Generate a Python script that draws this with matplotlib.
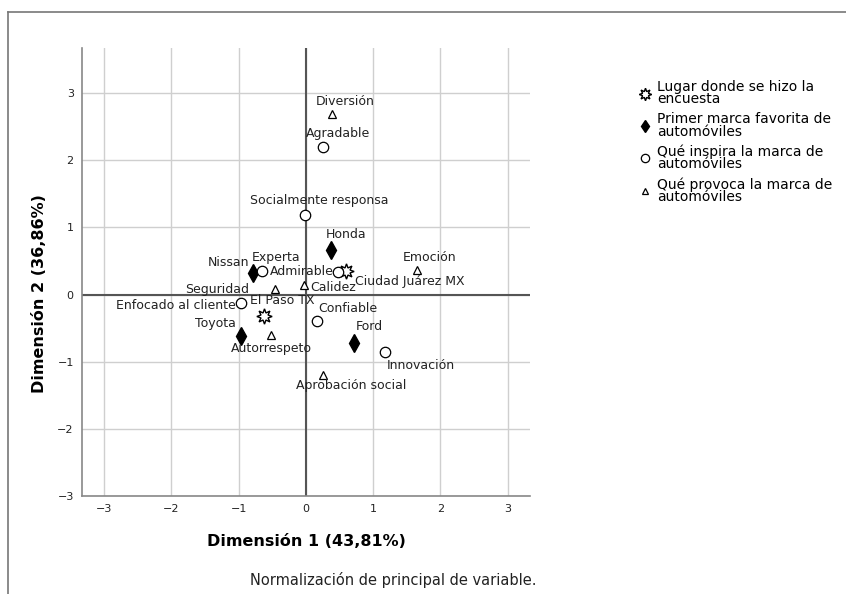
import numpy as np
import matplotlib
matplotlib.use("Agg")
import matplotlib.pyplot as plt
from matplotlib.lines import Line2D

# --- data ---
lugar_names = ["Ciudad Juárez MX", "El Paso TX"]
lugar_x = [0.60, -0.63]
lugar_y = [0.35, -0.32]

marca_names = ["Honda", "Nissan", "Toyota", "Ford"]
marca_x = [0.37, -0.79, -0.97, 0.71]
marca_y = [0.66, 0.32, -0.61, -0.72]

inspira_names = ["Agradable", "Socialmente responsa", "Experta", "Admirable",
                 "Enfocado al cliente", "Confiable", "Innovación"]
inspira_x = [0.26, -0.01, -0.66, 0.47, -0.96, 0.17, 1.17]
inspira_y = [2.19, 1.19, 0.35, 0.34, -0.13, -0.40, -0.86]

provoca_names = ["Diversión", "Emoción", "Seguridad", "Calidez",
                 "Autorrespeto", "Aprobación social"]
provoca_x = [0.39, 1.65, -0.46, -0.03, -0.52, 0.25]
provoca_y = [2.69, 0.36, 0.08, 0.14, -0.60, -1.20]

legend_labels = ["Lugar donde se hizo la\nencuesta",
                 "Primer marca favorita de\nautomóviles",
                 "Qué inspira la marca de\nautomóviles",
                 "Qué provoca la marca de\nautomóviles"]

x_label = "Dimensión 1 (43,81%)"
y_label = "Dimensión 2 (36,86%)"
footnote = "Normalización de principal de variable."
ticks = [-3, -2, -1, 0, 1, 2, 3]

# label placement: offset in points from the marker, horizontal alignment
label_pos = {
    "Ciudad Juárez MX": (6, -7.5, "left"),
    "El Paso TX": (13.5, 11.2, "center"),
    "Honda": (11.3, 11.3, "center"),
    "Nissan": (-2.4, 7.9, "right"),
    "Toyota": (-3.2, 8.4, "right"),
    "Ford": (11.2, 11.5, "center"),
    "Agradable": (10.7, 10.3, "center"),
    "Socialmente responsa": (10.4, 9.9, "center"),
    "Experta": (10.6, 9.6, "center"),
    "Admirable": (-3, 0, "right"),
    "Enfocado al cliente": (-4.3, -1.9, "right"),
    "Confiable": (0.5, 9.6, "left"),
    "Innovación": (1.9, -9.4, "left"),
    "Diversión": (9.4, 9.1, "center"),
    "Emoción": (9.1, 9.6, "center"),
    "Seguridad": (-18.3, 0, "right"),
    "Calidez": (4.5, -1.7, "left"),
    "Autorrespeto": (0, -10, "center"),
    "Aprobación social": (20.2, -7.7, "center"),
}

fig = plt.figure(figsize=(8.46, 5.94), dpi=100)
ax = fig.add_axes([0.097, 0.165, 0.530, 0.754])

ax.set_xlim(-3.33, 3.34)
ax.set_ylim(-3.0, 3.67)
ax.set_xticks(ticks)
ax.set_yticks(ticks)
ax.grid(True, color="#cfcfcf", lw=1)
ax.set_axisbelow(True)
ax.axhline(0, color="#555555", lw=1.5, zorder=1)
ax.axvline(0, color="#555555", lw=1.5, zorder=1)
for s in ["top", "right"]:
    ax.spines[s].set_visible(False)
for s in ["left", "bottom"]:
    ax.spines[s].set_color("#888888")
    ax.spines[s].set_linewidth(1.2)
ax.tick_params(length=0, labelsize=8, colors="#222222", pad=6)

star = dict(marker=(8, 1, 0), markersize=11, mfc="white", mec="black", mew=1, ls="none")
diamond = dict(marker="d", markersize=9, mfc="black", mec="black", ls="none")
circle = dict(marker="o", markersize=7.5, mfc="white", mec="black", mew=0.9, ls="none")
tri = dict(marker="^", markersize=6, mfc="white", mec="black", mew=0.9, ls="none")

groups = [
    (lugar_names, lugar_x, lugar_y, star),
    (marca_names, marca_x, marca_y, diamond),
    (inspira_names, inspira_x, inspira_y, circle),
    (provoca_names, provoca_x, provoca_y, tri),
]
handles = []
for names, xs, ys, style in groups:
    ax.plot(xs, ys, zorder=3, **style)
    handles.append(Line2D([], [], **style))
    for n, x, y in zip(names, xs, ys):
        dx, dy, ha = label_pos[n]
        ax.annotate(n, (x, y), xytext=(dx, dy), textcoords="offset points",
                    ha=ha, va="center", fontsize=9, color="#222222", zorder=4)

ax.set_xlabel(x_label, fontsize=11.5, fontweight="bold", labelpad=14)
ax.set_ylabel(y_label, fontsize=11.5, fontweight="bold")
ax.yaxis.set_label_coords(-0.078, 0.452)

# smaller markers inside the legend
for h, ms in zip(handles, [9, 6, 6, 5]):
    h.set_markersize(ms)
leg = fig.legend(handles, legend_labels, loc="upper left", bbox_to_anchor=(0.748, 0.877),
                 frameon=False, fontsize=10, handlelength=0.8, handletextpad=0.45,
                 labelspacing=0.42, borderpad=0)
for t in leg.get_texts():
    t.set_linespacing(0.85)

fig.text(0.296, 0.0236, footnote, fontsize=10.5, color="#222222", va="center")

# outer border like the source export
fig.add_artist(Line2D([0.009, 0.009], [0, 0.98], transform=fig.transFigure,
                      color="#777777", lw=1.2))
fig.add_artist(Line2D([0.009, 1.0], [0.98, 0.98], transform=fig.transFigure,
                      color="#777777", lw=1.2))

fig.savefig("out.png", dpi=100)
